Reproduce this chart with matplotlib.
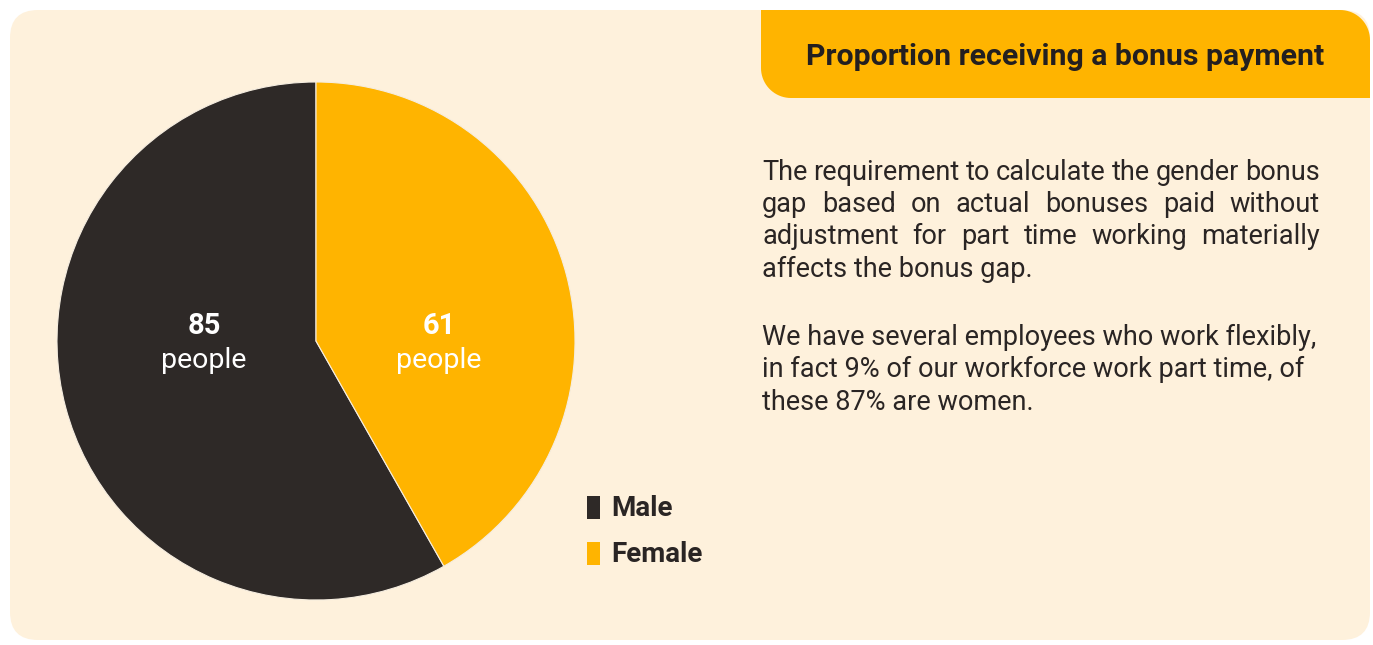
import numpy as np
import matplotlib
matplotlib.use("Agg")
from matplotlib import pyplot as plt
from matplotlib.patches import FancyBboxPatch, Polygon, Rectangle

# data
labels = ["Male", "Female"]
counts = [85, 61]
colors = ["#2e2927", "#ffb400"]

title = "Proportion receiving a bonus payment"
para1 = ["The requirement to calculate the gender bonus",
         "gap based on actual bonuses paid without",
         "adjustment for part time working materially",
         "affects the bonus gap."]
para2 = ["We have several employees who work flexibly,",
         "in fact 9% of our workforce work part time, of",
         "these 87% are women."]

plt.rcParams["font.family"] = ["Roboto", "DejaVu Sans"]

W, H = 1373, 645
bg = "#fef1dc"
ink = "#2a2524"

fig = plt.figure(figsize=(W / 100, H / 100), dpi=100)
fig.patch.set_facecolor("white")

# card background sits on its own axes under the pie
bgax = fig.add_axes([0, 0, 1, 1], zorder=0)
bgax.set_xlim(0, W)
bgax.set_ylim(H, 0)
bgax.axis("off")
bgax.add_patch(FancyBboxPatch((10, 10), 1360, 630, boxstyle="round,pad=0,rounding_size=28",
                              facecolor=bg, edgecolor="none"))

# pie
cx, cy, rad = 316, 341, 259
pax = fig.add_axes([(cx - rad) / W, (H - cy - rad) / H, 2 * rad / W, 2 * rad / H], zorder=1)
pax.pie(counts, colors=colors, startangle=90, counterclock=True,
        wedgeprops=dict(edgecolor="#f5ede0", linewidth=0.8))
pax.set_xlim(-1, 1)
pax.set_ylim(-1, 1)
pax.axis("off")

# overlay for text and legend
ax = fig.add_axes([0, 0, 1, 1], zorder=2)
ax.set_xlim(0, W)
ax.set_ylim(H, 0)
ax.axis("off")

# header tab: square top-left / bottom-right, rounded top-right / bottom-left
x0, x1, y0, y1, r = 761, 1370, 10, 98, 30
t = np.linspace(0, np.pi / 2, 20)
pts = [(x0, y0), (x1 - r, y0)]
pts += [(x1 - r + r * np.sin(a), y0 + r - r * np.cos(a)) for a in t]
pts += [(x1, y1), (x0 + r, y1)]
pts += [(x0 + r - r * np.sin(a), y1 - r + r * np.cos(a)) for a in t]
ax.add_patch(Polygon(pts, closed=True, facecolor="#ffb400", edgecolor="none"))
ax.text(1065, 57, title, ha="center", va="center", fontsize=21.8, fontweight="bold", color="#231f20")

# paragraphs (first one justified)
fs = 19.5
renderer = fig.canvas.get_renderer()
left, right = 762, 1320
line_y = [172, 204, 237, 269]
for i, line in enumerate(para1):
    y = line_y[i]
    words = line.split()
    if i < len(para1) - 1:
        objs = [ax.text(0, y, w, ha="left", va="center", fontsize=fs, color=ink) for w in words]
        widths = [o.get_window_extent(renderer).width for o in objs]
        gap = (right - left - sum(widths)) / (len(words) - 1)
        x = left
        for o, w in zip(objs, widths):
            o.set_x(x)
            x += w + gap
    else:
        ax.text(left, y, line, ha="left", va="center", fontsize=fs, color=ink)

for i, line in enumerate(para2):
    ax.text(left, 337 + i * 32.5, line, ha="left", va="center", fontsize=fs, color=ink)

# slice labels
label_pos = [(204, 343), (439, 343)]
for (lx, ly), n in zip(label_pos, counts):
    ax.text(lx, ly - 17, str(n), ha="center", va="center", fontsize=21, fontweight="bold", color="white")
    ax.text(lx, ly + 17, "people", ha="center", va="center", fontsize=20.5, color="white")

# legend
for i, (lab, c) in enumerate(zip(labels, colors)):
    y = 507 + i * 46
    ax.add_patch(Rectangle((587, y - 11.5), 13, 23, facecolor=c, edgecolor="none"))
    ax.text(611, y + 2, lab, ha="left", va="center", fontsize=20, fontweight="bold", color=ink)

fig.savefig("out.png", dpi=100, facecolor="white")
